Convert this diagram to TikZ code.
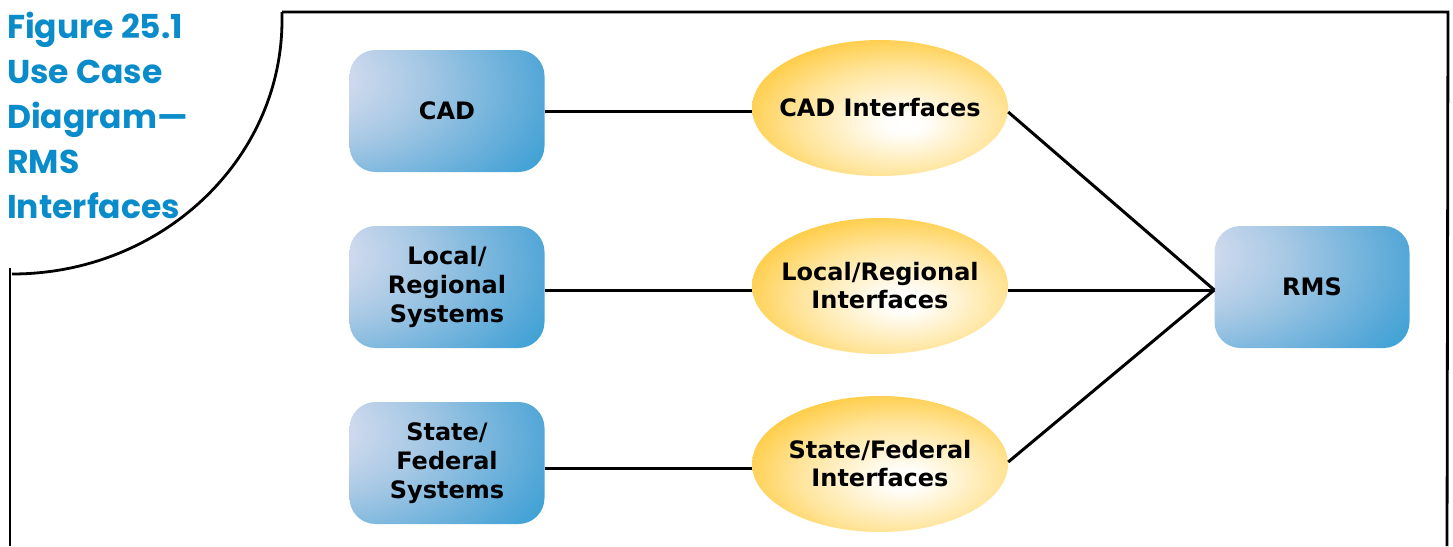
\documentclass[tikz,border=0pt]{standalone}
\usepackage{fontspec}
\setmainfont{DejaVu Sans}
\newfontfamily\titlefont{Poppins}[UprightFont=* Bold]
\usetikzlibrary{shapes.geometric}
\definecolor{titleblue}{HTML}{0A8CCA}
\definecolor{boxlight}{HTML}{E2E2F2}
\definecolor{boxmid}{HTML}{A6C8E4}
\definecolor{boxmid2}{HTML}{56A8D8}
\definecolor{boxdark}{HTML}{0A96CC}
\definecolor{ellout}{HTML}{FFC52C}
\definecolor{ellmid}{HTML}{FFE49A}
\pgfdeclareradialshading{boxshade}{\pgfpoint{-40bp}{15bp}}{color(0bp)=(boxlight); color(4bp)=(boxlight); color(26bp)=(boxmid); color(49bp)=(boxmid2); color(70bp)=(boxdark); color(130bp)=(boxdark)}
\pgfdeclareradialshading{ellshade}{\pgfpoint{5bp}{-6bp}}{color(0bp)=(white); color(4bp)=(white!95!ellmid); color(20bp)=(ellmid); color(34bp)=(ellout); color(90bp)=(ellout)}
\tikzset{
  sysbox/.style={rectangle, rounded corners=26pt, minimum width=195pt, minimum height=122pt, shading=boxshade, align=center, font=\fontsize{24}{29}\selectfont\bfseries, inner sep=0pt},
  usecase/.style={ellipse, minimum width=256pt, minimum height=136pt, shading=ellshade, inner sep=0pt},
  uctext/.style={align=center, font=\fontsize{24}{28}\selectfont\bfseries},
  conn/.style={line width=3pt, black},
  frame/.style={line width=2.8pt, black},
}
\begin{document}
\begin{tikzpicture}[x=1pt, y=-1pt]
\useasboundingbox (0,0) rectangle (1453,546);
% frame
\draw[frame] (282,12) -- (1448,12) -- (1447,546);
\draw[frame] (282,12) -- (282,20) .. controls (282,160) and (161,274) .. (12,274);
\draw[frame] (10,268) -- (10,546);
% title
\node[anchor=north west, align=left, text=titleblue, inner sep=0pt, font=\titlefont\fontsize{33}{45}\selectfont] (title) at (7,12) {Figure 25.1\\Use Case\\Diagram—\\RMS\\Interfaces};
% systems
\node[sysbox] (cad) at (447,111) {CAD};
\node[sysbox] (local) at (447,287) {Local/\\Regional\\Systems};
\node[sysbox] (state) at (447,463) {State/\\Federal\\Systems};
\node[sysbox] (rms) at (1312,287) {RMS};
% use cases
\node[usecase, label={[uctext]center:CAD Interfaces}] (cadi) at (880,108) {};
\node[usecase, label={[uctext]center:Local/Regional\\Interfaces}] (locali) at (880,286) {};
\node[usecase, label={[uctext]center:State/Federal\\Interfaces}] (statei) at (880,464) {};
% connectors
\draw[conn] (cad.east) -- ([yshift=-3pt]cadi.west);
\draw[conn] ([yshift=-3pt]local.east) -- ([yshift=-4pt]locali.west);
\draw[conn] ([yshift=-5pt]state.east) -- ([yshift=-4pt]statei.west);
\coordinate (rmsin) at ([yshift=-3pt]rms.west);
\draw[conn] ([yshift=-4pt]cadi.east) -- (rmsin);
\draw[conn] ([yshift=-4pt]locali.east) -- (rmsin);
\draw[conn] ([yshift=2pt]statei.east) -- (rmsin);
\end{tikzpicture}
\end{document}
